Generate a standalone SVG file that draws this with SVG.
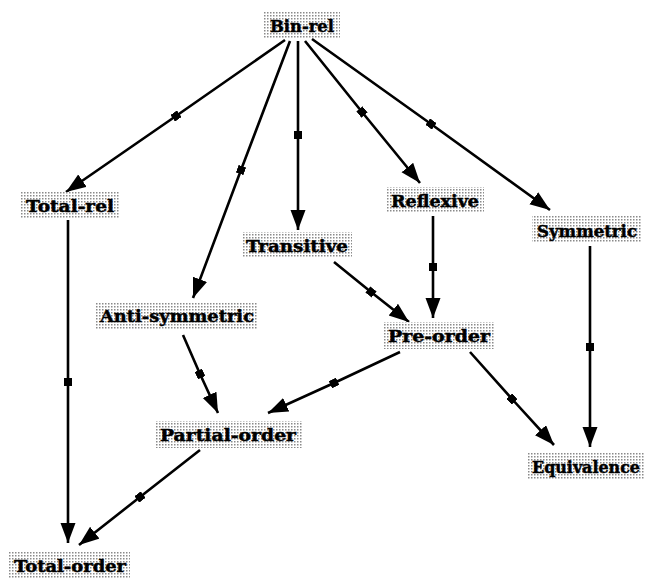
<svg xmlns="http://www.w3.org/2000/svg" width="646" height="581" viewBox="0 0 646 581">
<defs>
<pattern id="dots" width="3" height="3" patternUnits="userSpaceOnUse">
<rect width="3" height="3" fill="#ffffff"/>
<rect width="1.5" height="1.5" fill="#8a8a8a"/>
</pattern>
<marker id="arr" markerUnits="userSpaceOnUse" markerWidth="22" markerHeight="16" refX="20" refY="7.5" orient="auto">
<path d="M0,0 L20,7.5 L0,15 z" fill="#000"/>
</marker>
<marker id="sq" markerUnits="userSpaceOnUse" markerWidth="8" markerHeight="8" refX="4" refY="4" orient="auto">
<rect x="0" y="0" width="8" height="8" fill="#000"/>
</marker>
<style>
.box{fill:url(#dots);stroke:none}
.lbl{font-family:"DejaVu Serif","Liberation Serif",serif;font-weight:bold;font-size:17px;fill:#000;stroke:#000;stroke-width:0.5;text-anchor:middle}
.e{fill:none;stroke:#000;stroke-width:2.6;marker-mid:url(#sq);marker-end:url(#arr)}
</style>
</defs>
<g id="connectors">
<path class="e" d="M285,40 L176,116 L66,192"/>
<path class="e" d="M290,41 L241,170 L193,298"/>
<path class="e" d="M298,41 L298,135 L298,230"/>
<path class="e" d="M305,41 L362,112 L420,183"/>
<path class="e" d="M312,39 L431,124 L550,210"/>
<path class="e" d="M68,220 L68,382 L68,543"/>
<path class="e" d="M433,216 L433,267 L433,318"/>
<path class="e" d="M334,262 L371,292 L409,322"/>
<path class="e" d="M590,246 L590,347 L590,447"/>
<path class="e" d="M183,335 L200,374 L218,413"/>
<path class="e" d="M400,352 L334,383 L268,413"/>
<path class="e" d="M470,352 L512,399 L554,445"/>
<path class="e" d="M200,450 L140,497 L79,545"/>
</g>
<g id="bin-rel"><rect class="box" x="263" y="12" width="77" height="26"/><text class="lbl" x="302" y="32" textLength="64" lengthAdjust="spacingAndGlyphs">Bin-rel</text></g>
<g id="total-rel"><rect class="box" x="20" y="192" width="100" height="26"/><text class="lbl" x="70" y="212" textLength="88" lengthAdjust="spacingAndGlyphs">Total-rel</text></g>
<g id="transitive"><rect class="box" x="242" y="232" width="110" height="26"/><text class="lbl" x="297" y="252" textLength="102" lengthAdjust="spacingAndGlyphs">Transitive</text></g>
<g id="anti-symmetric"><rect class="box" x="96" y="302" width="162" height="28"/><text class="lbl" x="177" y="322" textLength="154" lengthAdjust="spacingAndGlyphs">Anti-symmetric</text></g>
<g id="reflexive"><rect class="box" x="386" y="187" width="98" height="26"/><text class="lbl" x="435" y="207" textLength="88" lengthAdjust="spacingAndGlyphs">Reflexive</text></g>
<g id="symmetric"><rect class="box" x="532" y="216" width="110" height="27"/><text class="lbl" x="587" y="237" textLength="100" lengthAdjust="spacingAndGlyphs">Symmetric</text></g>
<g id="pre-order"><rect class="box" x="384" y="322" width="110" height="27"/><text class="lbl" x="439" y="342" textLength="102" lengthAdjust="spacingAndGlyphs">Pre-order</text></g>
<g id="partial-order"><rect class="box" x="155" y="421" width="147" height="27"/><text class="lbl" x="228" y="441" textLength="136" lengthAdjust="spacingAndGlyphs">Partial-order</text></g>
<g id="equivalence"><rect class="box" x="528" y="453" width="116" height="27"/><text class="lbl" x="586" y="473" textLength="108" lengthAdjust="spacingAndGlyphs">Equivalence</text></g>
<g id="total-order"><rect class="box" x="8" y="551" width="122" height="27"/><text class="lbl" x="70" y="572" textLength="112" lengthAdjust="spacingAndGlyphs">Total-order</text></g>
</svg>
